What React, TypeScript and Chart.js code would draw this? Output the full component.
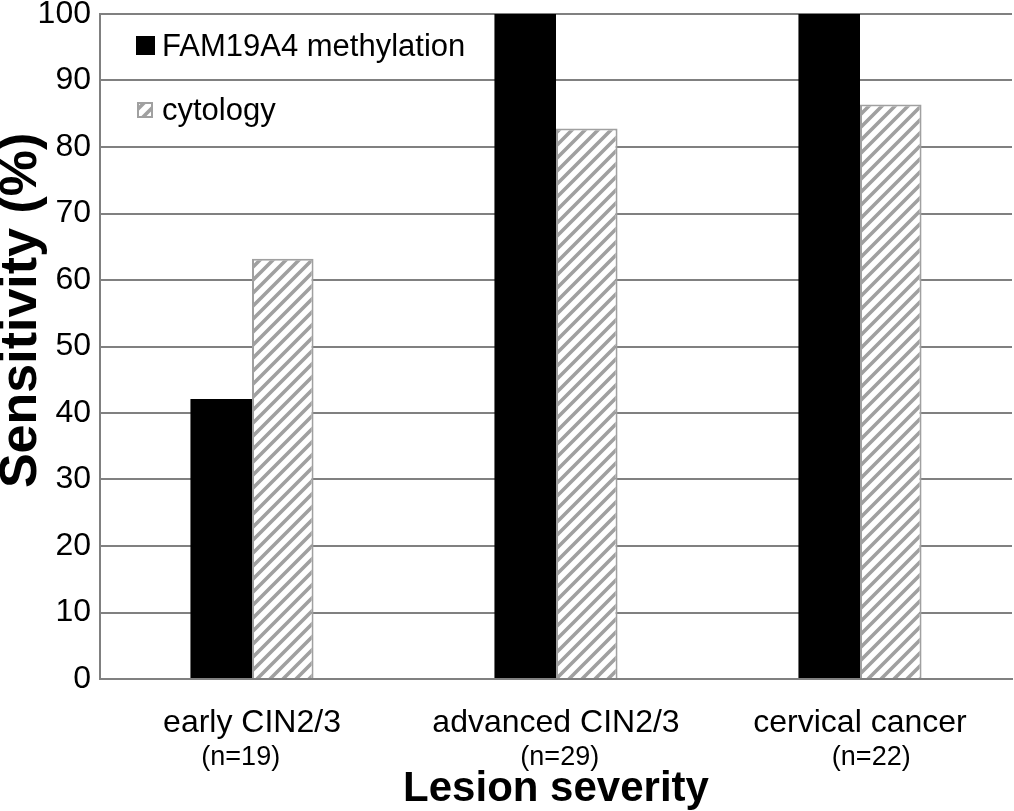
import React, { useEffect, useRef } from "react";
import { Chart, registerables } from "chart.js";

Chart.register(...registerables);

const categories = ["early CIN2/3", "advanced CIN2/3", "cervical cancer"];
const sampleSizes = ["(n=19)", "(n=29)", "(n=22)"];
const seriesNames = ["FAM19A4 methylation", "cytology"];
const methylation = [42.1, 100, 100];
const cytology = [63.2, 82.8, 86.4];
const yTicks = { min: 0, max: 100, step: 10 };
const xTitle = "Lesion severity";
const yTitle = "Sensitivity (%)";

const FONT = "'Liberation Sans', Arial, sans-serif";
const GRID = "#808080";
const HATCH = "#a0a0a0";

function makeHatch(): CanvasPattern | string {
  const p = 13;
  const c = document.createElement("canvas");
  c.width = p;
  c.height = p;
  const ctx = c.getContext("2d");
  if (!ctx) return HATCH;
  ctx.fillStyle = "#ffffff";
  ctx.fillRect(0, 0, p, p);
  ctx.strokeStyle = HATCH;
  ctx.lineWidth = 3.6;
  ctx.lineCap = "square";
  ctx.beginPath();
  ctx.moveTo(-p, 2 * p);
  ctx.lineTo(2 * p, -p);
  ctx.moveTo(-p, p);
  ctx.lineTo(p, -p);
  ctx.moveTo(0, 2 * p);
  ctx.lineTo(2 * p, 0);
  ctx.stroke();
  const pat = ctx.createPattern(c, "repeat");
  return pat || HATCH;
}

// spaces used to nudge the small "(n=..)" labels like the original text boxes
const nShift = [-3, 1, 3];

const legendPlugin = {
  id: "insideLegend",
  afterDraw(chart: any) {
    const { ctx, chartArea } = chart;
    const rows = [
      { boxX: 36, boxY: 22, size: 19, textY: 42 },
      { boxX: 37, boxY: 88, size: 16, textY: 106 },
    ];
    ctx.save();
    chart.data.datasets.forEach((ds: any, i: number) => {
      const r = rows[i];
      if (!r) return;
      const x = chartArea.left + r.boxX;
      const y = chartArea.top + r.boxY;
      ctx.fillStyle = ds.backgroundColor;
      ctx.fillRect(x, y, r.size, r.size);
      if (ds.borderWidth) {
        ctx.strokeStyle = ds.borderColor;
        ctx.lineWidth = 2;
        ctx.strokeRect(x + 1, y + 1, r.size - 2, r.size - 2);
      }
      ctx.fillStyle = "#000";
      ctx.font = `31px ${FONT}`;
      ctx.textBaseline = "alphabetic";
      ctx.textAlign = "left";
      ctx.fillText(ds.label, chartArea.left + 62, chartArea.top + r.textY);
    });
    ctx.restore();
  },
};

export default function App() {
  const ref = useRef<HTMLCanvasElement | null>(null);

  useEffect(() => {
    document.body.style.margin = "0";
    const canvas = ref.current;
    if (!canvas) return;
    const hatch = makeHatch();
    const chart = new Chart(canvas, {
      type: "bar",
      data: {
        labels: categories,
        datasets: [
          {
            label: seriesNames[0],
            data: methylation,
            backgroundColor: "#000000",
            borderWidth: 0,
            barPercentage: 1,
            categoryPercentage: 0.405,
          },
          {
            label: seriesNames[1],
            data: cytology,
            backgroundColor: hatch as any,
            borderColor: HATCH,
            borderWidth: 2,
            barPercentage: 1,
            categoryPercentage: 0.405,
          },
        ],
      },
      options: {
        animation: false,
        responsive: false,
        maintainAspectRatio: false,
        layout: { padding: { top: 14, right: 2, left: 0, bottom: 0 } },
        plugins: {
          legend: { display: false },
          tooltip: { enabled: false },
        },
        scales: {
          x: {
            type: "category",
            position: "bottom",
            weight: 0,
            grid: { display: false, drawTicks: false },
            border: { display: true, color: GRID, width: 2 },
            ticks: {
              color: "#000",
              font: { family: FONT, size: 32, lineHeight: 1 },
              padding: 28,
              maxRotation: 0,
              autoSkip: false,
            },
            afterFit(scale: any) {
              scale.height = 60;
              scale.paddingLeft = 0;
              scale.paddingRight = 0;
            },
          },
          x2: {
            type: "category",
            position: "bottom",
            weight: 1,
            labels: sampleSizes,
            grid: { display: false, drawTicks: false },
            border: { display: false },
            ticks: {
              color: "#000",
              font: { family: FONT, size: 27, lineHeight: 1 },
              padding: 5,
              maxRotation: 0,
              autoSkip: false,
              callback: function (this: any, _v: any, i: number) {
                const s = sampleSizes[i];
                const k = nShift[i] || 0;
                const sp = " ".repeat(Math.abs(k));
                return k < 0 ? s + sp : sp + s;
              },
            },
            title: {
              display: true,
              text: xTitle,
              color: "#000",
              font: { family: FONT, size: 42, weight: "bold", lineHeight: 1 },
              padding: { top: 0, bottom: 1 },
            },
            afterFit(scale: any) {
              scale.height = 72;
              scale.paddingLeft = 0;
              scale.paddingRight = 0;
            },
          },
          y: {
            type: "linear",
            min: yTicks.min,
            max: yTicks.max,
            grid: { color: GRID, lineWidth: 2, drawTicks: false },
            border: { display: true, color: GRID, width: 2 },
            ticks: {
              stepSize: yTicks.step,
              color: "#000",
              font: { family: FONT, size: 32, lineHeight: 1 },
              padding: 9,
            },
            title: {
              display: true,
              text: "     " + yTitle,
              color: "#000",
              font: { family: FONT, size: 52, weight: "bold", lineHeight: 1 },
              padding: { top: -4, bottom: 0 },
            },
            afterFit(scale: any) {
              scale.width = 100;
              scale.paddingTop = 0;
              scale.paddingBottom = 0;
            },
          },
        },
      },
      plugins: [legendPlugin],
    });
    return () => chart.destroy();
  }, []);

  return (
    <div style={{ width: 1014, height: 811 }}>
      <canvas ref={ref} width={1014} height={811} style={{ display: "block" }} />
    </div>
  );
}
